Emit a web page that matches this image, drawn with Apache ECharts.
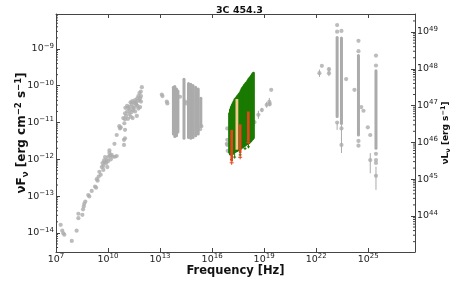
<!DOCTYPE html>
<html><head><meta charset="utf-8">
<script src="https://cdn.jsdelivr.net/npm/echarts@6/dist/echarts.min.js"></script>
<style>html,body{margin:0;padding:0;background:#fff}#c{width:463px;height:282px}</style>
</head><body><div id="c"></div>
<script>
// All values are log10: x = log10(nu / Hz), y = log10(nuFnu / erg cm^-2 s^-1)
const X_MIN = 7, X_MAX = 27.7;
const Y_MIN = -14.52, Y_MAX = -8.05;
const L_OFFSET = 57.54; // log10(nuL) - log10(nuF)
const xTickExps = [7, 10, 13, 16, 19, 22, 25];

const radioPoints = [
[7.27,-13.78],[7.36,-13.94],[7.42,-14.01],[7.48,-14.05],[7.91,-14.22],[8.19,-13.94],[8.29,-13.6],[8.29,-13.48],
[8.52,-13.51],[8.56,-13.36],[8.6,-13.28],[8.63,-13.21],[8.69,-13.15],[8.86,-12.97],[8.92,-13.01],[9.06,-12.86],
[9.25,-12.74],[9.31,-12.77],[9.35,-12.54],[9.4,-12.58],[9.46,-12.47],[9.5,-12.34],[9.58,-12.42],[9.64,-12.21],
[9.68,-12.1],[9.73,-12.18],[9.73,-12.29],[9.77,-12.03],[9.8,-12.08],[9.83,-11.94],[9.89,-12.11],[9.92,-12.02],
[9.96,-12.21],[10.0,-12.05],[10.02,-11.93],[10.08,-11.83],[10.08,-11.76],[10.12,-11.9],[10.16,-12.0],[10.21,-11.88],
[10.27,-11.93],[10.37,-11.58],[10.4,-11.93],[10.5,-11.91],[10.5,-11.34],[10.65,-11.1],[10.69,-11.16],[10.73,-11.13],
[10.88,-10.88],[10.92,-11.47],[10.92,-11.61],[10.94,-11.02],[10.98,-10.91],[10.98,-10.75],[10.98,-11.2],[10.98,-11.43],
[11.0,-10.6],[11.04,-10.82],[11.1,-10.55],[11.11,-10.70],[11.15,-10.9],[11.17,-10.61],[11.23,-10.57],[11.23,-10.77],
[11.27,-10.66],[11.3,-10.45],[11.31,-10.84],[11.35,-10.72],[11.37,-10.50],[11.4,-10.42],[11.42,-10.58],[11.42,-10.88],
[11.46,-10.66],[11.5,-10.46],[11.5,-10.6],[11.56,-10.39],[11.56,-10.70],[11.6,-10.48],[11.62,-10.52],[11.66,-10.43],
[11.66,-10.82],[11.69,-10.34],[11.7,-10.55],[11.75,-10.28],[11.75,-10.62],[11.8,-10.4],[11.81,-10.20],[11.85,-10.34],
[11.85,-10.58],[11.89,-10.16],[11.9,-10.28],[11.90,-10.43],[11.95,-10.04]
];
const irOpticalPoints = [
[13.1,-10.24],[13.14,-10.28],[13.39,-10.43],[13.42,-10.48],[14.15,-10.3],[14.44,-10.43],[14.5,-10.48],
[15.31,-11.18],[15.38,-11.1]
];
// optical / gamma monitoring columns: [nu, top, bottom]
const opticalColumns = [
[13.77,-10.0,-11.35],[13.85,-9.98,-11.42],[13.95,-10.05,-11.4],[14.03,-10.1,-11.3],
[14.38,-9.78,-11.47],[14.64,-9.9,-11.45],[14.77,-9.92,-11.47],[14.9,-9.95,-11.45],
[15.05,-10.0,-11.4],[15.2,-10.05,-11.35],[15.35,-10.3,-11.15]
];
const gammaColumns = [
[23.21,-8.65,-10.88],[23.46,-8.66,-11.07],[24.44,-9.14,-11.38],[25.45,-9.55,-11.74]
];
// single gray points: [nu, F, errLow, errHigh]
const uvGrayPoints = [
[16.85,-11.58],[16.88,-11.16],[16.88,-11.47],[16.88,-11.61],[16.9,-11.77]
];
const hardXPoints = [
[18.44,-10.99,-11.05,-10.93],[18.67,-10.79,-10.9,-10.68],[18.87,-10.66,-10.72,-10.6],[19.15,-10.52,-10.6,-10.44],
[19.3,-10.44,-10.55,-10.33],[19.33,-10.5,-10.56,-10.44],[19.41,-10.11,-10.11,-10.11]
];
const gammaPoints = [
[22.19,-9.66,-9.76,-9.56],[22.33,-9.46,-9.46,-9.46],[22.74,-9.55,-9.6,-9.5],[22.74,-9.66,-9.74,-9.6],
[23.21,-8.35,-8.35,-8.35],[23.21,-8.53,-8.53,-8.53],[23.21,-11.0,-11.2,-11.0],
[23.46,-8.51,-8.51,-8.51],[23.46,-11.16,-11.16,-11.16],[23.46,-11.61,-11.83,-11.4],
[23.73,-9.82,-9.82,-9.82],[24.21,-10.11,-10.11,-10.11],
[24.44,-8.78,-8.78,-8.78],[24.44,-9.06,-9.06,-9.06],[24.44,-11.5,-11.5,-11.5],[24.44,-11.63,-11.63,-11.63],
[24.6,-10.58,-10.58,-10.58],[24.73,-10.68,-10.68,-10.68],[24.98,-11.13,-11.13,-11.13],[25.12,-11.34,-11.34,-11.34],
[25.12,-12.02,-12.38,-11.83],
[25.45,-9.18,-9.18,-9.18],[25.45,-9.45,-9.45,-9.45],[25.45,-11.85,-11.85,-11.85],[25.45,-12.02,-12.02,-12.02],
[25.45,-12.1,-12.1,-12.1],[25.45,-12.45,-12.83,-12.2]
];
// X-ray spectra envelope: [nu, top, bottom]
const xrayGreen = [
[17.00,-10.72,-11.85],[17.05,-10.62,-11.9],[17.10,-10.55,-11.9],[17.15,-10.5,-11.88],[17.20,-10.45,-11.88],
[17.25,-10.4,-11.86],[17.30,-10.35,-11.84],[17.35,-10.32,-11.82],[17.40,-10.29,-11.81],[17.45,-10.26,-11.8],
[17.50,-10.23,-11.78],[17.55,-10.2,-11.77],[17.60,-10.17,-11.78],[17.65,-10.12,-11.74],[17.70,-10.07,-11.72],
[17.75,-10.03,-11.7],[17.80,-10.0,-11.69],[17.85,-9.96,-11.67],[17.90,-9.93,-11.65],[17.95,-9.9,-11.63],
[18.00,-9.88,-11.62],[18.05,-9.84,-11.62],[18.10,-9.8,-11.6],[18.15,-9.77,-11.58],[18.20,-9.74,-11.56],
[18.25,-9.71,-11.53],[18.30,-9.67,-11.5],[18.35,-9.64,-11.48],[18.39,-9.62,-11.45]
];
// green error-bar tails below the envelope: [nu, from, to]
const xrayGreenTails = [[17.12,-11.9,-12.05],[17.3,-11.84,-11.98],[17.62,-11.78,-11.92],[17.9,-11.65,-11.75],[18.1,-11.6,-11.7]];
const redBars = [[17.13,-11.2,-12.06,-12.15],[17.62,-11.05,-11.83,-12.0],[18.09,-10.70,-11.52,-11.6]];
const orangeBars = [[17.43,-10.36,-11.74]];

const FONT = 'DejaVu Sans';
const GRAY = '#ababab', GREEN = '#1a7a02', RED = '#e8441c', ORANGE = '#f6c98c';

function expStr(n){ return (n < 0 ? '\u2212' : '') + Math.abs(n); }
function powLabel(v){
  if (Math.abs(v - Math.round(v)) > 1e-6) return '';
  return '{b|10}{s|' + expStr(Math.round(v)) + '}';
}
const tickRich = {
  b: {fontFamily: FONT, fontSize: 9.5, color: '#222', lineHeight: 13},
  s: {fontFamily: FONT, fontSize: 7, color: '#222', verticalAlign: 'top', lineHeight: 13}
};

function minorTicks(lo, hi){
  const out = [];
  for (let d = Math.floor(lo) - 1; d <= Math.ceil(hi); d++)
    for (let k = 2; k <= 9; k++){ const v = d + Math.log10(k); if (v > lo && v < hi) out.push(v); }
  return out;
}

function columnRender(w, color){
  return function(params, api){
    const a = api.coord([api.value(0), api.value(1)]);
    const b = api.coord([api.value(0), api.value(2)]);
    return {type:'rect', shape:{x:a[0]-w/2, y:a[1], width:w, height:b[1]-a[1], r: w/2}, style:{fill: color}};
  };
}
function errRender(color){
  return function(params, api){
    const a = api.coord([api.value(0), api.value(2)]);
    const b = api.coord([api.value(0), api.value(3)]);
    return {type:'line', shape:{x1:a[0], y1:a[1], x2:b[0], y2:b[1]}, style:{stroke: color, lineWidth: 1}};
  };
}
function tailRender(color){
  return function(params, api){
    const a = api.coord([api.value(0), api.value(1)]);
    const b = api.coord([api.value(0), api.value(2)]);
    return {type:'group', children:[
      {type:'line', shape:{x1:a[0], y1:a[1], x2:b[0], y2:b[1]}, style:{stroke: color, lineWidth: 1}},
      {type:'line', shape:{x1:b[0]-1.5, y1:b[1]-1.5, x2:b[0]+1.5, y2:b[1]-1.5}, style:{stroke: color, lineWidth: 1}}
    ]};
  };
}
function barRender(w, color){
  return function(params, api){
    const a = api.coord([api.value(0), api.value(1)]);
    const b = api.coord([api.value(0), api.value(2)]);
    const children = [{type:'rect', shape:{x:a[0]-w/2, y:a[1], width:w, height:b[1]-a[1]}, style:{fill: color}}];
    const e = api.value(3);
    if (e != null && !isNaN(e)){
      const c = api.coord([api.value(0), e]);
      children.push({type:'line', shape:{x1:b[0], y1:b[1], x2:c[0], y2:c[1]}, style:{stroke: color, lineWidth: 1}});
      children.push({type:'line', shape:{x1:c[0]-2, y1:c[1]-2, x2:c[0]+2, y2:c[1]-2}, style:{stroke: color, lineWidth: 1}});
    }
    return {type:'group', children};
  };
}
function tickRender(dir, len){
  return function(params, api){
    const p = api.coord([api.value(0), api.value(1)]);
    return {type:'line', shape:{x1:p[0], y1:p[1], x2:p[0]+dir*len, y2:p[1]}, style:{stroke:'#444', lineWidth:1}};
  };
}

const chart = echarts.init(document.getElementById('c'), null, {renderer:'canvas'});
const axisLineStyle = {color:'#444', width:1};
chart.setOption({
  animation: false,
  backgroundColor: '#fff',
  title: {text: '3C 454.3', left: 211, top: 1,
    textStyle: {fontFamily: FONT, fontSize: 9.5, fontWeight: 'bold', color: '#111'}},
  grid: {left: 56, right: 48, top: 14, bottom: 30, containLabel: false, outerBoundsMode: 'none'},
  xAxis: [
    {type:'value', min:X_MIN, max:X_MAX, interval:3, position:'bottom',
     axisLine:{show:true, onZero:false, lineStyle:axisLineStyle},
     axisTick:{show:true, inside:true, length:4, lineStyle:axisLineStyle},
     axisLabel:{formatter: powLabel, rich: tickRich, margin: 1},
     splitLine:{show:false},
     name:'Frequency [Hz]', nameLocation:'middle', nameGap:13, nameMoveOverlap:false,
     nameTextStyle:{fontFamily:FONT, fontSize:11.5, fontWeight:'bold', color:'#111', verticalAlign:'top'}},
    {type:'value', min:X_MIN, max:X_MAX, interval:3, position:'top',
     axisLine:{show:true, onZero:false, lineStyle:axisLineStyle},
     axisTick:{show:true, inside:true, length:4, lineStyle:axisLineStyle},
     axisLabel:{show:false}, splitLine:{show:false}}
  ],
  yAxis: [
    {type:'value', min:Y_MIN, max:Y_MAX, position:'left',
     axisLine:{show:true, onZero:false, lineStyle:axisLineStyle},
     axisTick:{show:true, inside:true, length:4, lineStyle:axisLineStyle},
     axisLabel:{formatter: powLabel, rich: tickRich, margin: 2},
     splitLine:{show:false},
     name:'{a|\u03bdF}{sb|\u03bd}{a| [erg cm}{sp|\u22122}{a| s}{sp|\u22121}{a|]}',
     nameLocation:'middle', nameGap:26, nameRotate:90, nameMoveOverlap:false,
     nameTextStyle:{rich:{
       a:{fontFamily:FONT, fontSize:12, fontWeight:'bold', color:'#111', lineHeight:16},
       sb:{fontFamily:FONT, fontSize:8.5, fontWeight:'bold', color:'#111', verticalAlign:'bottom', lineHeight:16},
       sp:{fontFamily:FONT, fontSize:8.5, fontWeight:'bold', color:'#111', verticalAlign:'top', lineHeight:16}
     }}},
    {type:'value', min:Y_MIN + L_OFFSET, max:Y_MAX + L_OFFSET, position:'right',
     axisLine:{show:true, onZero:false, lineStyle:axisLineStyle},
     axisTick:{show:true, inside:true, length:4, lineStyle:axisLineStyle},
     axisLabel:{formatter: powLabel, rich: tickRich, margin: 2},
     splitLine:{show:false},
     name:'{a|\u03bdL}{sb|\u03bd}{a| [erg s}{sp|\u22121}{a|]}',
     nameLocation:'middle', nameGap:25, nameRotate:90, nameMoveOverlap:false,
     nameTextStyle:{rich:{
       a:{fontFamily:FONT, fontSize:9, fontWeight:'bold', color:'#111', lineHeight:12},
       sb:{fontFamily:FONT, fontSize:6.5, fontWeight:'bold', color:'#111', verticalAlign:'bottom', lineHeight:12},
       sp:{fontFamily:FONT, fontSize:6.5, fontWeight:'bold', color:'#111', verticalAlign:'top', lineHeight:12}
     }}}
  ],
  series: [
    {type:'custom', name:'minorL', xAxisIndex:0, yAxisIndex:0, silent:true, clip:false,
     renderItem: tickRender(1, 2), data: minorTicks(Y_MIN, Y_MAX).map(v => [X_MIN, v]), z:5},
    {type:'custom', name:'minorR', xAxisIndex:0, yAxisIndex:1, silent:true, clip:false,
     renderItem: tickRender(-1, 2), data: minorTicks(Y_MIN + L_OFFSET, Y_MAX + L_OFFSET).map(v => [X_MAX, v]), z:5},
    {type:'custom', name:'opticalColumns', renderItem: columnRender(3, GRAY), data: opticalColumns, z:1},
    {type:'custom', name:'gammaColumns', renderItem: columnRender(3, GRAY), data: gammaColumns, z:1},
    {type:'custom', name:'grayErr', renderItem: errRender(GRAY),
     data: hardXPoints.concat(gammaPoints).concat([[23.46,-11.07,-11.47,-11.07]]), z:1},
    {type:'scatter', name:'radio', data: radioPoints, symbolSize:4.2, itemStyle:{color:GRAY}, z:2},
    {type:'scatter', name:'irOptical', data: irOpticalPoints, symbolSize:4.2, itemStyle:{color:GRAY}, z:2},
    {type:'scatter', name:'uvGray', data: uvGrayPoints, symbolSize:4.2, itemStyle:{color:GRAY}, z:2},
    {type:'scatter', name:'hardX', data: hardXPoints.map(p => [p[0], p[1]]), symbolSize:4.2, itemStyle:{color:GRAY}, z:2},
    {type:'scatter', name:'gamma', data: gammaPoints.map(p => [p[0], p[1]]), symbolSize:4.2, itemStyle:{color:GRAY}, z:2},
    {type:'custom', name:'xray', renderItem: columnRender(2.6, GREEN), data: xrayGreen, z:3},
    {type:'custom', name:'xrayTails', renderItem: tailRender(GREEN), data: xrayGreenTails, z:3},
    {type:'custom', name:'orange', renderItem: barRender(2.8, ORANGE), data: orangeBars, z:4},
    {type:'custom', name:'red', renderItem: barRender(2.6, RED), data: redBars, z:4}
  ]
});
</script></body></html>
